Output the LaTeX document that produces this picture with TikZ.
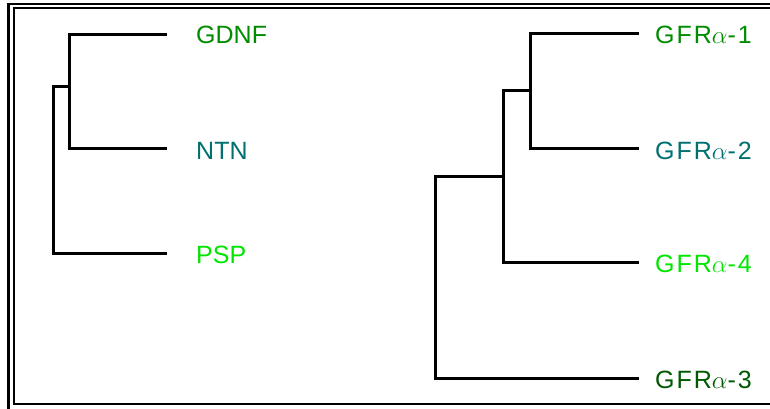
\documentclass[tikz,border=0pt]{standalone}
\usepackage{fontspec}
\setmainfont{Liberation Sans}
\newfontfamily\spacedsans[LetterSpace=8]{Liberation Sans}
\begin{document}
\begin{tikzpicture}[x=1pt,y=-1pt,
  branch/.style={draw=black,line width=3pt,line cap=rect},
  frameline/.style={draw=black,line width=2.2pt},
  leaf/.style={anchor=base west,inner sep=0pt,font=\fontsize{25}{25}\selectfont},
  receptor/.style={leaf,font=\fontsize{25}{25}\spacedsans},
  cgreen/.style={text={rgb,255:red,0;green,140;blue,0}},
  cteal/.style={text={rgb,255:red,0;green,112;blue,112}},
  clime/.style={text={rgb,255:red,0;green,230;blue,0}},
  cdark/.style={text={rgb,255:red,0;green,88;blue,0}}]
\useasboundingbox (0,0) rectangle (770,408);
\fill[white] (0,0) rectangle (770,408);
\begin{scope}
\clip (0,0) rectangle (770,408);
% double frame, running off the right and bottom edges
\draw[frameline] (8.5,3.7) rectangle (800,440);
\draw[frameline] (13.7,8.2) rectangle (790,404.3);
\end{scope}

% ---- left tree: GDNF family ligands
\node[leaf,cgreen] (gdnf) at (196,43) {GDNF};
\node[leaf,cteal]  (ntn)  at (196,159) {NTN};
\node[leaf,clime]  (psp)  at (196,263) {PSP};
\coordinate (gdnf-tip) at (165,34);
\coordinate (ntn-tip)  at (165,148);
\coordinate (psp-tip)  at (165,253);
\coordinate (l1) at (69,86);
\coordinate (l0) at (53,170);
\draw[branch] (l1) |- (gdnf-tip);
\draw[branch] (l1) |- (ntn-tip);
\draw[branch] (l0) |- (l1);
\draw[branch] (l0) |- (psp-tip);

% ---- right tree: GFR alpha receptors
\node[receptor,cgreen] (r1) at (655,43)  {GFR$\alpha$-1};
\node[receptor,cteal]  (r2) at (655,159) {GFR$\alpha$-2};
\node[receptor,clime]  (r4) at (655,272) {GFR$\alpha$-4};
\node[receptor,cdark]  (r3) at (655,388) {GFR$\alpha$-3};
\coordinate (r1-tip) at (637,33);
\coordinate (r2-tip) at (637,148);
\coordinate (r4-tip) at (637,262);
\coordinate (r3-tip) at (637,378);
\coordinate (b1) at (530,90);
\coordinate (b2) at (503,176);
\coordinate (b3) at (435,277);
\draw[branch] (b1) |- (r1-tip);
\draw[branch] (b1) |- (r2-tip);
\draw[branch] (b2) |- (b1);
\draw[branch] (b2) |- (r4-tip);
\draw[branch] (b3) |- (b2);
\draw[branch] (b3) |- (r3-tip);
\end{tikzpicture}
\end{document}
